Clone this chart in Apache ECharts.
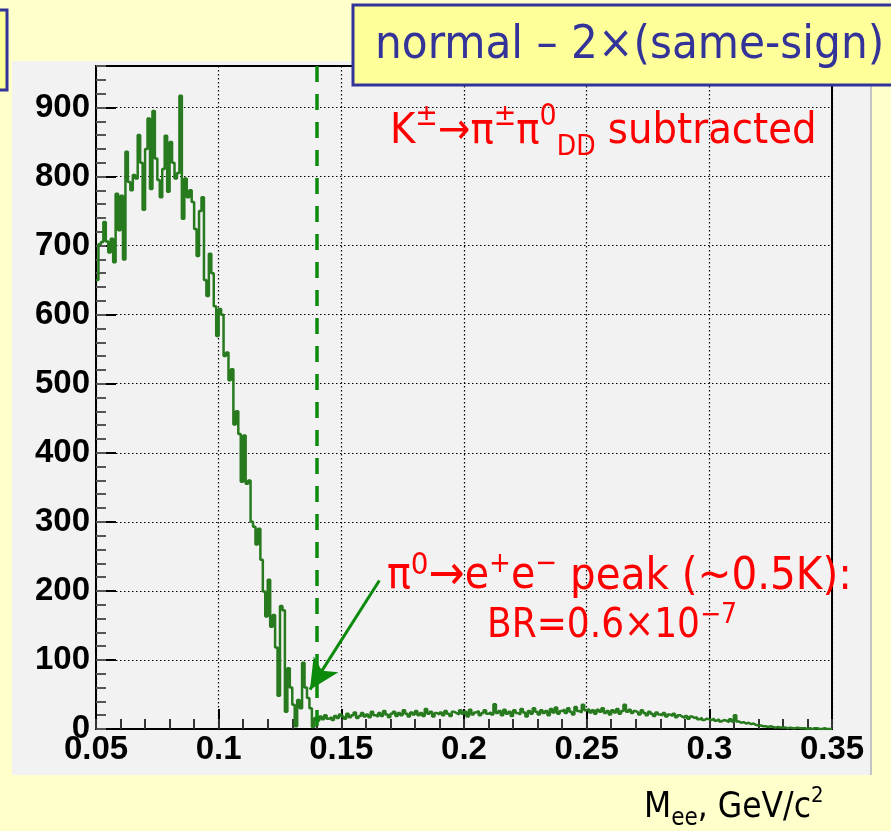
<!DOCTYPE html>
<html><head><meta charset="utf-8">
<script src="https://cdn.jsdelivr.net/npm/echarts@6/dist/echarts.min.js"></script>
<style>html,body{margin:0;padding:0;background:#FFFFCC;}#c{width:891px;height:831px;}</style>
</head><body><div id="c"></div>
<script>
// ---- data ----
const binStart = 0.05;
const binWidth = 0.001;
const counts = [
 650, 702, 705, 734, 706, 690, 710, 676, 775, 722,
 772, 680, 836, 792, 780, 802, 797, 860, 820, 752,
 840, 884, 782, 895, 826, 795, 770, 811, 859, 778,
 850, 820, 797, 805, 917, 739, 797, 770, 780, 763,
 724, 685, 750, 770, 650, 627, 688, 660, 612, 569,
 608, 600, 540, 545, 505, 521, 441, 460, 427, 358,
 425, 355, 360, 300, 293, 267, 290, 245, 199, 163,
 216, 148, 165, 118, 48, 178, 172, 25, 88, 60,
 35, 4, 42, 30, 96, 60, 45, 30, 3, 16,
 12, 18, 14, 20, 15, 17, 13, 19, 16, 21,
 18, 15, 22, 17, 20, 24, 16, 19, 23, 18,
 21, 17, 25, 20, 18, 23, 19, 26, 21, 17,
 22, 25, 19, 23, 20, 27, 22, 18, 24, 21,
 26, 20, 23, 19, 29, 22, 25, 18, 23, 21,
 24, 20, 26, 22, 19, 25, 23, 21, 27, 22,
 25, 18, 28, 21, 24, 26, 20, 23, 27, 22,
 24, 21, 36, 23, 26, 20, 28, 22, 25, 19,
 27, 23, 21, 29, 24, 18, 26, 22, 30, 25,
 21, 27, 23, 26, 20, 29, 24, 31, 22, 26,
 28, 23, 30, 25, 21, 32, 26, 24, 35, 27,
 29, 24, 27, 22, 28, 25, 30, 23, 26, 21,
 27, 24, 29, 22, 26, 35, 25, 28, 23, 26,
 24, 21, 27, 23, 20, 25, 22, 19, 24, 21,
 20, 23, 18, 21, 19, 22, 17, 20, 18, 16,
 19, 15, 18, 16, 17, 14, 16, 13, 15, 14,
 13, 15, 12, 14, 11, 13, 12, 10, 14, 11,
 20, 11, 9, 10, 8, 9, 7, 8, 6, 5,
 5, 4, 4, 3, 4, 3, 2, 3, 2, 2,
 2, 1, 2, 1, 1, 2, 1, 1, 1, 0,
 1, 0, 1, 1, 0, 0, 1, 0, 0, 0
];
const xRange = [0.05, 0.35];
const yRange = [0, 960];
const peakMarkerX = 0.14;
const arrowFrom = [0.1655, 215];
const arrowTo = [0.1372, 57];

const titleText = 'normal \u2013 2\u00d7(same-sign)';

// ---- build ----
const histData = counts.map((v, i) => [+(binStart + binWidth * i).toFixed(3), v]);
histData.push([+(binStart + binWidth * counts.length).toFixed(3), counts[counts.length - 1]]);

const TF = '"DejaVu Sans Condensed", "DejaVu Sans", sans-serif';
const LF = '"Liberation Sans", Arial, sans-serif';
const RED = '#ff0000';
const BLUE = '#333399';
const GREEN = '#0c8a0c';

const chart = echarts.init(document.getElementById('c'), null, {renderer: 'canvas'});
const labelStyle = {color: '#000', fontFamily: LF, fontWeight: 'bold', fontSize: 33};
const option = {
  backgroundColor: '#FFFFCC',
  animation: false,
  grid: {left: 96, top: 66, right: 59, bottom: 102, show: true, borderColor: '#000', borderWidth: 2, backgroundColor: 'transparent'},
  xAxis: [
    {type: 'value', position: 'bottom', min: xRange[0], max: xRange[1], interval: 0.05,
     axisLine: {show: true, onZero: false, lineStyle: {color: '#000', width: 2}},
     axisTick: {show: true, inside: true, length: 20, lineStyle: {color: '#000', width: 2}},
     axisLabel: Object.assign({margin: 4, formatter: v => String(+v.toFixed(2))}, labelStyle),
     splitLine: {show: true, lineStyle: {color: '#000', width: 1.2, type: [1.5, 2.5]}}},
    {type: 'value', position: 'bottom', min: xRange[0], max: xRange[1], interval: 0.01,
     axisLine: {show: false, onZero: false},
     axisTick: {show: true, inside: true, length: 10, lineStyle: {color: '#333', width: 2}},
     axisLabel: {show: false}, splitLine: {show: false}}
  ],
  yAxis: [
    {type: 'value', position: 'left', min: yRange[0], max: yRange[1], interval: 100,
     axisLine: {show: true, onZero: false, lineStyle: {color: '#000', width: 2}},
     axisTick: {show: true, inside: true, length: 20, lineStyle: {color: '#000', width: 2}},
     axisLabel: Object.assign({margin: 6, showMaxLabel: false, padding: [7, 0, 0, 0]}, labelStyle),
     splitLine: {show: true, lineStyle: {color: '#000', width: 1.2, type: [1.5, 2.5]}}},
    {type: 'value', position: 'left', min: yRange[0], max: yRange[1], interval: 20,
     axisLine: {show: false, onZero: false},
     axisTick: {show: true, inside: true, length: 10, lineStyle: {color: '#555', width: 2}},
     axisLabel: {show: false}, splitLine: {show: false}}
  ],
  series: [{
    type: 'line', xAxisIndex: 0, yAxisIndex: 0, data: histData, step: 'end',
    showSymbol: false, symbol: 'none', silent: true,
    lineStyle: {color: '#287a1e', width: 2.5},
    markLine: {
      silent: true, animation: false, symbol: ['none', 'none'], label: {show: false},
      data: [
        [{coord: [peakMarkerX, yRange[1]], lineStyle: {color: GREEN, width: 3.5, type: [16, 12]}},
         {coord: [peakMarkerX, yRange[0]]}],
        [{coord: arrowFrom, symbol: 'none', lineStyle: {color: GREEN, width: 3, type: 'solid'}},
         {coord: arrowTo, symbol: 'arrow', symbolSize: [22, 30]}]
      ]
    }
  }],
  graphic: [
    {type: 'rect', z: -10, silent: true, shape: {x: 12, y: 61, width: 860, height: 714}, style: {fill: '#F2F2F2'}},
    {type: 'line', z: -9, silent: true, shape: {x1: 871, y1: 61, x2: 871, y2: 775}, style: {stroke: '#C4C4C4', lineWidth: 2}},
    {type: 'rect', z: 50, silent: true, shape: {x: -10, y: 10, width: 17, height: 80}, style: {fill: '#FFFF99', stroke: BLUE, lineWidth: 3}},
    {type: 'rect', z: 50, silent: true, shape: {x: 353, y: 5, width: 600, height: 80}, style: {fill: '#FFFF99', stroke: BLUE, lineWidth: 3}},
    {type: 'text', z: 51, silent: true, x: 375, y: 46,
     style: {text: titleText, fill: BLUE, fontFamily: TF, fontSize: 47, align: 'left', verticalAlign: 'middle'}},
    {type: 'text', z: 51, silent: true, x: 390, y: 102,
     style: {
       text: '{n|K}{s|\u00b1}{n|\u2192\u03c0}{s|\u00b1}{n|\u03c0}{s|0}{b|DD}{n| subtracted}',
       fill: RED, fontFamily: TF, align: 'left', verticalAlign: 'top',
       rich: {
         n: {fontFamily: TF, fontSize: 43, lineHeight: 60, fill: RED},
         s: {fontFamily: TF, fontSize: 30, lineHeight: 41, verticalAlign: 'top', fill: RED},
         b: {fontFamily: TF, fontSize: 28, lineHeight: 30, verticalAlign: 'bottom', fill: RED}
       }
     }},
    {type: 'text', z: 51, silent: true, x: 387, y: 550,
     style: {
       text: '{n|\u03c0}{z|0}{a|\u2192}{n|e}{s|+}{n|e}{s|\u2212}{p| peak (~0.5K):}',
       fill: RED, fontFamily: TF, align: 'left', verticalAlign: 'top',
       rich: {
         n: {fontFamily: TF, fontSize: 44, lineHeight: 54, fill: RED},
         p: {fontFamily: TF, fontSize: 45, lineHeight: 54, fill: RED},
         a: {fontFamily: TF, fontSize: 48, lineHeight: 54, fill: RED},
         z: {fontFamily: TF, fontSize: 31, lineHeight: 44, verticalAlign: 'top', fill: RED},
         s: {fontFamily: TF, fontSize: 29, lineHeight: 40, verticalAlign: 'top', fill: RED}
       }
     }},
    {type: 'text', z: 51, silent: true, x: 487, y: 602,
     style: {
       text: '{n|BR=0.6\u00d710}{s|\u22127}',
       fill: RED, fontFamily: TF, align: 'left', verticalAlign: 'top',
       rich: {
         n: {fontFamily: TF, fontSize: 40, lineHeight: 50, fill: RED},
         s: {fontFamily: TF, fontSize: 28, lineHeight: 38, verticalAlign: 'top', fill: RED}
       }
     }},
    {type: 'text', z: 51, silent: true, x: 644, y: 785,
     style: {
       text: '{n|M}{b|ee}{n|, GeV/c}{s|2}',
       fill: '#000', fontFamily: TF, align: 'left', verticalAlign: 'top',
       rich: {
         n: {fontFamily: TF, fontSize: 35, lineHeight: 46, fill: '#000'},
         b: {fontFamily: TF, fontSize: 24, lineHeight: 18, verticalAlign: 'bottom', fill: '#000'},
         s: {fontFamily: TF, fontSize: 22, lineHeight: 40, verticalAlign: 'top', fill: '#000'}
       }
     }}
  ]
};
chart.setOption(option);
</script>
</body></html>
